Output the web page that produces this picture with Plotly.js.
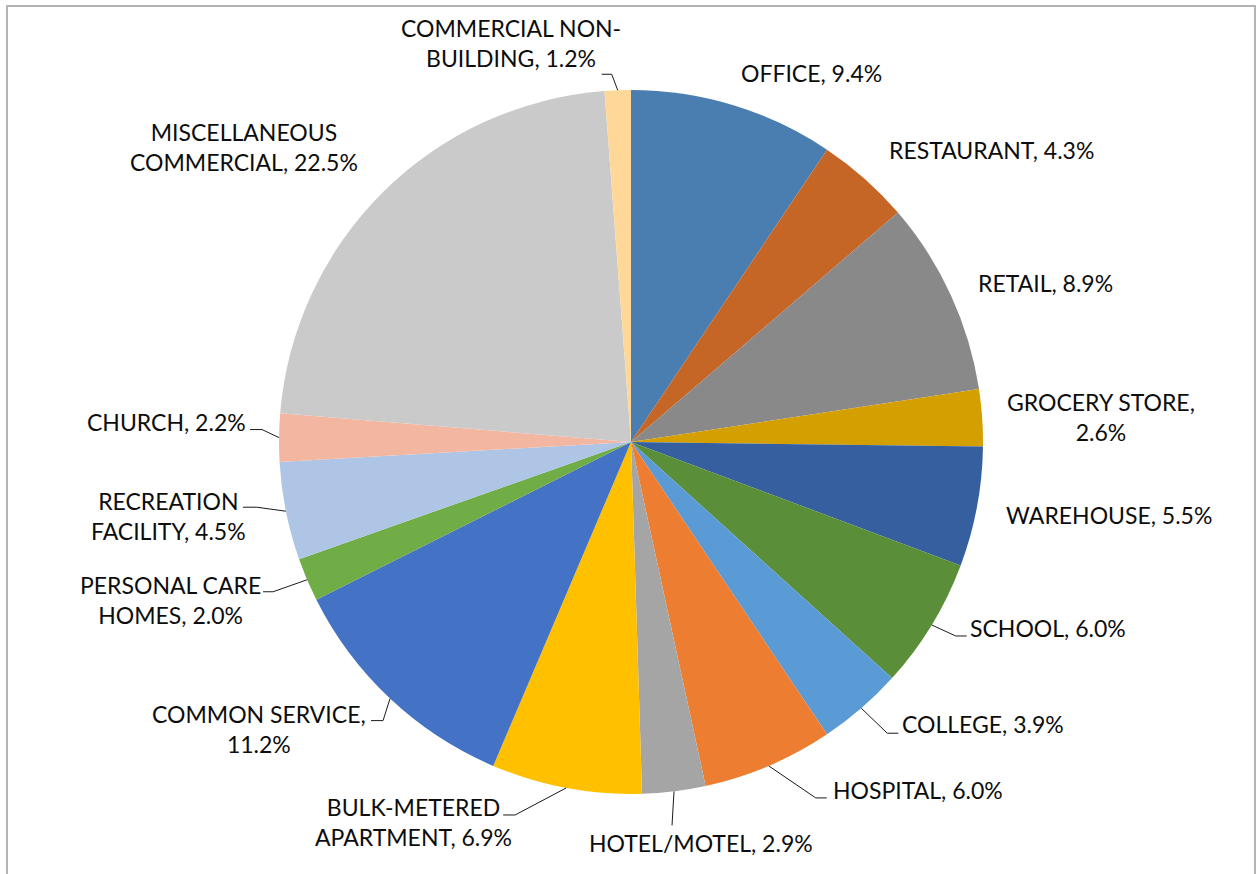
<!DOCTYPE html>
<html>
<head>
<meta charset="utf-8">
<script src="https://cdn.plot.ly/plotly-3.0.1.min.js"></script>
<style>
html,body{margin:0;padding:0;background:#fff;overflow:hidden;width:1256px;height:874px}
#frame{position:absolute;left:6px;top:5px;width:1250px;height:900px;border:2px solid #b4b4b4;box-sizing:border-box}
#chart{position:absolute;left:0;top:0;width:1256px;height:874px}
</style>
</head>
<body>
<div id="frame"></div>
<div id="chart"></div>
<script>
// ---- data ----
const categories = ["OFFICE", "RESTAURANT", "RETAIL", "GROCERY STORE", "WAREHOUSE", "SCHOOL",
  "COLLEGE", "HOSPITAL", "HOTEL/MOTEL", "BULK-METERED APARTMENT", "COMMON SERVICE",
  "PERSONAL CARE HOMES", "RECREATION FACILITY", "CHURCH", "MISCELLANEOUS COMMERCIAL",
  "COMMERCIAL NON-BUILDING"];
const sharePercent = [9.4, 4.3, 8.9, 2.6, 5.5, 6.0, 3.9, 6.0, 2.9, 6.9, 11.2, 2.0, 4.5, 2.2, 22.5, 1.2];

// ---- styling ----
const sliceColors = ["#4a7eb1", "#c56526", "#898989", "#d49f00", "#365fa0", "#5b8e39",
  "#5b9bd5", "#ed7d31", "#a5a5a5", "#ffc000", "#4472c4", "#70ad47", "#aec5e6", "#f3b7a1",
  "#cacaca", "#ffd899"];
// label centre offset (px) from the midpoint of each slice's outer arc
const labelShift = [[78,-32],[127,-29],[95,-12],[119,-1],[132,8],[116,3],[122,16],[149,24],
  [27,52],[-153,34],[-131,30],[-137,20],[-117,5],[-113,-16],[-139,-45],[-107,-47]];
// leader line bend and end (px offsets from the arc midpoint), null = no leader
const leaderPath = [null, null, null, null, null,
  [[24,11],[35,11]], [[26,25],[37,25]], [[47,32],[58,32]], [[-2,34],[-2,34]],
  [[-51,27],[-63,27]], [[-7,22],[-19,22]], [[-34,12],[-44,12]], [[-29,-4],[-43,-4]],
  [[-17,-8],[-29,-8]], null, [[-6,-16],[-16,-16]]];

const M = {l: 279, r: 273, t: 90, b: 80};
const SIDE = 704; // plot area is a square, the pie fills it
const FONT = {family: "Lato, 'Open Sans', sans-serif", size: 23, color: "#0d0d0d"};

function wrap(text, maxChars) {
  const lines = [];
  let rest = text;
  while (rest.length > maxChars) {
    let cut = -1;
    for (let i = 0; i <= maxChars && i < rest.length; i++) {
      if (rest[i] === ' ') cut = i;
      if (rest[i] === '-' && i < maxChars) cut = i + 1;
    }
    if (cut <= 0) break;
    lines.push(rest.slice(0, cut).trim());
    rest = rest.slice(cut).trim();
  }
  lines.push(rest);
  return lines.join('<br>');
}

const total = sharePercent.reduce((a, b) => a + b, 0);
let cum = 0;
const annotations = [];
const shapes = [];
const px2x = dx => dx / SIDE;
const px2y = dy => -dy / SIDE;
sharePercent.forEach((v, i) => {
  const mid = (cum + v / 2) / total * 2 * Math.PI;
  cum += v;
  const ex = 0.5 + 0.5 * Math.sin(mid);
  const ey = 0.5 + 0.5 * Math.cos(mid);
  const txt = wrap(categories[i] + ", " + v.toFixed(1) + "%", 17);
  annotations.push({
    xref: 'paper', yref: 'paper',
    x: ex + px2x(labelShift[i][0]), y: ey + px2y(labelShift[i][1]),
    text: txt, showarrow: false, xanchor: 'center', yanchor: 'middle', align: 'center',
    font: FONT
  });
  const lp = leaderPath[i];
  if (lp) {
    const pts = [[ex, ey], [ex + px2x(lp[0][0]), ey + px2y(lp[0][1])], [ex + px2x(lp[1][0]), ey + px2y(lp[1][1])]];
    shapes.push({
      type: 'path', xref: 'paper', yref: 'paper',
      path: 'M ' + pts.map(p => p[0].toFixed(5) + ' ' + p[1].toFixed(5)).join(' L '),
      line: {color: '#1a1a1a', width: 1}
    });
  }
});

const trace = {
  type: 'pie',
  labels: categories,
  values: sharePercent,
  sort: false,
  direction: 'clockwise',
  rotation: 0,
  textinfo: 'none',
  hoverinfo: 'label+percent',
  marker: {colors: sliceColors, line: {width: 0}},
  domain: {x: [0, 1], y: [0, 1]},
  showlegend: false
};

const layout = {
  width: 1256, height: 874,
  margin: M,
  paper_bgcolor: 'rgba(0,0,0,0)',
  plot_bgcolor: 'rgba(0,0,0,0)',
  showlegend: false,
  annotations: annotations,
  shapes: shapes,
  font: FONT
};

Plotly.newPlot('chart', [trace], layout, {displayModeBar: false, staticPlot: true});
</script>
</body>
</html>
